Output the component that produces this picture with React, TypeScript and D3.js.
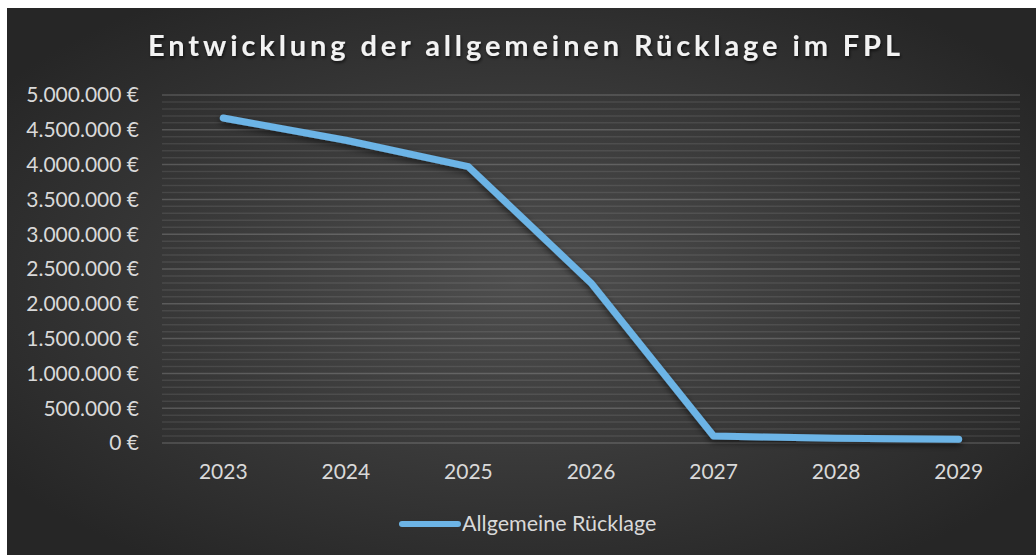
import * as d3 from 'd3';
import * as React from 'react';

// Chart data
const title = 'Entwicklung der allgemeinen Rücklage im FPL';
const seriesName = 'Allgemeine Rücklage';
const years = ['2023', '2024', '2025', '2026', '2027', '2028', '2029'];
const ruecklage = [4670000, 4350000, 3970000, 2300000, 100000, 67000, 53000];
const yTicks = [0, 500000, 1000000, 1500000, 2000000, 2500000, 3000000, 3500000, 4000000, 4500000, 5000000];
const yMax = 5000000;
const minorStep = 100000;

const de = d3.formatLocale({ decimal: ',', thousands: '.', grouping: [3], currency: ['', ' €'] });
const euro = (v: number) => de.format(',.0f')(v) + ' €';

const W = 1036;
const H = 555;
const frame = { x: 7, y: 8 };
const plot = { left: 162, right: 1020, top: 95, bottom: 443 };
const fontFamily = 'Lato, "Open Sans", sans-serif';

export default function App() {
    const x = d3.scaleBand<string>().domain(years).range([plot.left, plot.right]);
    const cx = (d: string) => (x(d) as number) + x.bandwidth() / 2;
    const y = d3.scaleLinear().domain([0, yMax]).range([plot.bottom, plot.top]);

    const minorTicks = d3.range(0, yMax + 1, minorStep).filter(v => !yTicks.includes(v));

    const line = d3.line<number>()
        .x((_, i) => cx(years[i]))
        .y(v => y(v));

    return (
        <svg
            width={W}
            height={H}
            style={{ position: 'absolute', left: 0, top: 0, display: 'block' }}
        >
            <defs>
                <radialGradient id="bg" cx="50%" cy="50%" r="62%">
                    <stop offset="0%" stopColor="#4e4e4e" />
                    <stop offset="100%" stopColor="#262626" />
                </radialGradient>
                <filter id="shadow" x="-10%" y="-10%" width="120%" height="130%">
                    <feDropShadow dx="0" dy="3" stdDeviation="3" floodColor="#000" floodOpacity="0.55" />
                </filter>
                <filter id="tshadow" x="-5%" y="-30%" width="110%" height="160%">
                    <feDropShadow dx="1" dy="2" stdDeviation="1.5" floodColor="#000" floodOpacity="0.6" />
                </filter>
            </defs>
            <rect width={W} height={H} fill="#fff" />
            <rect x={frame.x} y={frame.y} width={W - frame.x} height={H - frame.y} fill="url(#bg)" />

            <text
                x={524}
                y={56}
                textAnchor="middle"
                fill="#f2f2f2"
                fontFamily={fontFamily}
                fontWeight="bold"
                fontSize={29}
                textLength={752}
                lengthAdjust="spacing"
                filter="url(#tshadow)"
            >
                {title}
            </text>

            <g>
                {minorTicks.map(v => (
                    <line key={'m' + v} x1={plot.left} x2={plot.right} y1={y(v)} y2={y(v)}
                        stroke="#ffffff" strokeOpacity={0.09} strokeWidth={1.5} />
                ))}
                {yTicks.map(v => (
                    <line key={'g' + v} x1={plot.left} x2={plot.right} y1={y(v)} y2={y(v)}
                        stroke="#ffffff" strokeOpacity={0.18} strokeWidth={1.5} />
                ))}
            </g>

            <g fontFamily={fontFamily} fontSize={21} fill="#d9d9d9">
                {yTicks.map(v => (
                    <text key={'y' + v} x={139} y={y(v)} dy="0.35em" textAnchor="end">{euro(v)}</text>
                ))}
                {years.map(d => (
                    <text key={'x' + d} x={cx(d)} y={479} textAnchor="middle">{d}</text>
                ))}
            </g>

            <path
                d={line(ruecklage) as string}
                fill="none"
                stroke="#6cb4e6"
                strokeWidth={7}
                strokeLinecap="round"
                strokeLinejoin="round"
                filter="url(#shadow)"
            />

            <g>
                <line x1={402} x2={458} y1={524} y2={524} stroke="#6cb4e6" strokeWidth={6} strokeLinecap="round" />
                <text x={462} y={531} fontFamily={fontFamily} fontSize={21.5} fill="#d9d9d9">{seriesName}</text>
            </g>
        </svg>
    );
}
